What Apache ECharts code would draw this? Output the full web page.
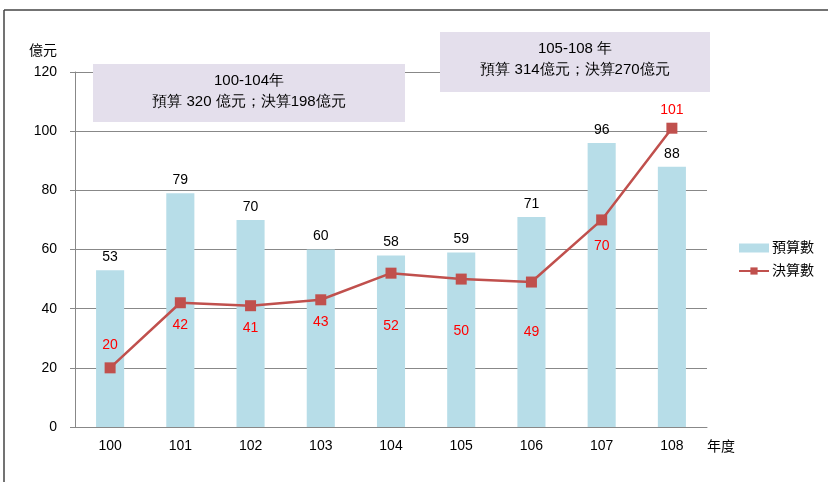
<!DOCTYPE html>
<html><head><meta charset="utf-8">
<script src="https://cdn.jsdelivr.net/npm/echarts@6/dist/echarts.min.js"></script>
<style>html,body{margin:0;padding:0;background:#fff}#c{width:828px;height:482px}</style>
</head><body><div id="c"></div>
<script>
const categories = ['100','101','102','103','104','105','106','107','108'];
const budget = [53, 79, 70, 60, 58, 59, 71, 96, 88];
const actual = [20, 42, 41, 43, 52, 50, 49, 70, 101];
const actualLabelPos = ['top','bottom','bottom','bottom','bottom','bottom','bottom','bottom','top'];
const actualLabelDist = [10, 10, 10, 10, 40, 40, 38, 14, 6];
const yTicks = [0, 20, 40, 60, 80, 100, 120];
const note1 = ['100-104年', '預算 320 億元；決算198億元'];
const note2 = ['105-108 年', '預算 314億元；決算270億元'];

const FONT = '"Liberation Sans", Arial, "Noto Sans CJK TC", sans-serif';
const chart = echarts.init(document.getElementById('c'));
chart.setOption({
  animation: false,
  textStyle: { fontFamily: FONT },
  grid: { left: 75, right: 121, top: 72, bottom: 55 },
  legend: {
    orient: 'vertical', left: 733, top: 236, itemGap: 9,
    itemWidth: 30, itemHeight: 9,
    textStyle: { fontSize: 14, color: '#000', fontFamily: FONT, padding: [0, 0, 0, -2] },
    data: [
      { name: '預算數', icon: 'rect' },
      { name: '決算數' }
    ]
  },
  xAxis: {
    type: 'category', data: categories,
    name: '年度', nameLocation: 'end', nameGap: 0,
    nameTextStyle: { fontSize: 14, color: '#000', align: 'left', verticalAlign: 'top', padding: [13, 0, 0, 0] },
    axisLine: { lineStyle: { color: '#888' } },
    axisTick: { lineStyle: { color: '#888' }, length: 5 },
    axisLabel: { fontSize: 14, color: '#000', margin: 12 }
  },
  yAxis: {
    type: 'value', min: 0, max: 120, interval: 20,
    name: '億元', nameLocation: 'end', nameGap: 14,
    nameTextStyle: { fontSize: 14, color: '#000', align: 'right', padding: [0, 18, 0, 0] },
    axisLine: { show: true, lineStyle: { color: '#888' } },
    axisTick: { show: true, inside: false, length: 5, lineStyle: { color: '#888' } },
    axisLabel: { fontSize: 14, color: '#000', margin: 18 },
    splitLine: { lineStyle: { color: '#888' } }
  },
  series: [
    {
      name: '預算數', type: 'bar', data: budget, barWidth: '40%',
      itemStyle: { color: '#b7dde8' },
      label: { show: true, position: 'top', distance: 6, fontSize: 14, color: '#000' }
    },
    {
      name: '決算數', type: 'line', z: 5,
      data: actual.map((v, i) => ({
        value: v,
        label: { position: actualLabelPos[i], distance: actualLabelDist[i] }
      })),
      symbol: 'rect', symbolSize: 11,
      lineStyle: { color: '#c0504d', width: 2.5 },
      itemStyle: { color: '#c0504d' },
      label: { show: true, fontSize: 14, color: '#ff0000' }
    }
  ],
  graphic: [
    { type: 'line', shape: { x1: 4, y1: 10, x2: 828, y2: 10 }, style: { stroke: '#444', lineWidth: 1.5 }, silent: true },
    { type: 'line', shape: { x1: 4, y1: 10, x2: 4, y2: 482 }, style: { stroke: '#444', lineWidth: 1.5 }, silent: true },
    { type: 'rect', shape: { x: 93, y: 64, width: 312, height: 58 }, style: { fill: '#e4dfec' }, z: 10 },
    { type: 'text', z: 11,
      style: { text: note1[0] + '\n' + note1[1], x: 249, y: 70, fontSize: 15, lineHeight: 21, fill: '#000', font: '15px ' + FONT, align: 'center' } },
    { type: 'rect', shape: { x: 440, y: 32, width: 270, height: 60 }, style: { fill: '#e4dfec' }, z: 10 },
    { type: 'text', z: 11,
      style: { text: note2[0] + '\n' + note2[1], x: 575, y: 38, fontSize: 15, lineHeight: 21, fill: '#000', font: '15px ' + FONT, align: 'center' } }
  ]
});
</script></body></html>
